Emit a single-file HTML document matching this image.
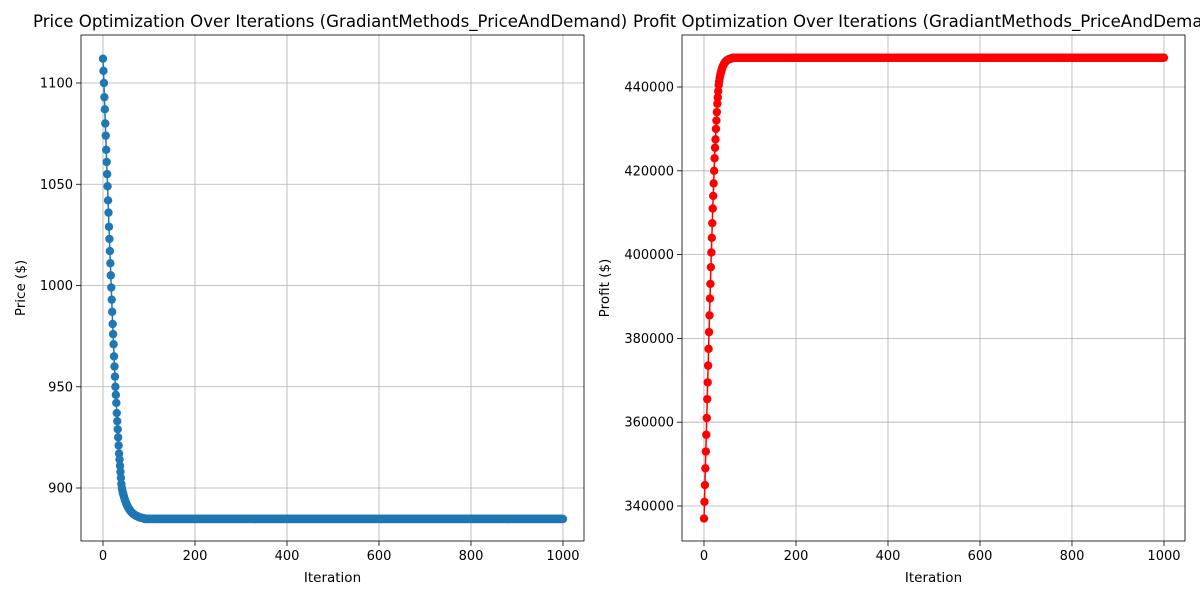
<!DOCTYPE html>
<html><head><meta charset="utf-8"><style>
html,body{margin:0;padding:0;background:#fff;width:1200px;height:600px;overflow:hidden}
svg{display:block;font-family:"DejaVu Sans","Liberation Sans",sans-serif}
</style></head><body>
<svg id="fig" width="1200" height="600" viewBox="0 0 1200 600"></svg>
<script>
// ---- data ----
const priceEarly = [1112,1106,1100,1093,1087,1080,1074,1067,1061,1055,1049,1042,1036,1029,1023,1017,1011,1005,999,993,987,981,976,971,965,960,955,950,946,942,937,933,929,925,921,917,914,911,908,905,902,900,
  898.9,897.9,897.0,896.2,895.4,894.6,893.9,893.3,892.7,892.1,891.6,891.1,890.7,890.3,889.9,889.5,889.2,888.9,888.6,888.3,888.0,887.8,887.6,887.4,887.2,887.0,886.9,886.7,886.6,886.4,886.3,886.2,886.1,886.0,885.9,885.8,885.6,885.55,885.5,885.4,885.35,885.3,885.25,885.2,885.15,885.1,885.05,885.0,884.95];
const priceConverged = 884.7;
const profitEarly = [337000,341000,345000,349000,353000,357000,361000,365500,369500,373500,377500,381500,385500,389500,393000,397000,400500,404000,407500,411000,414000,417000,420000,423000,425500,427500,430000,432000,434000,436000,437500,439000,440500,
  441300,442000,442600,443100,443600,444000,444350,444700,444950,445200,445420,445610,445780,445920,446050,446170,446270,446360,446430,446500,446560,446610,446660,446700,446740,446770,446800,446820,446840,446860];
const profitConverged = 447000;
const iterCount = 1000;
const xTicks = [0,200,400,600,800,1000];
const priceTicks = [900,950,1000,1050,1100];
const profitTicks = [340000,360000,380000,400000,420000,440000];

const NS="http://www.w3.org/2000/svg";
const svg=document.getElementById('fig');
function mk(tag,attrs,parent){const e=document.createElementNS(NS,tag);for(const k in attrs)e.setAttribute(k,attrs[k]);(parent||svg).appendChild(e);return e;}
function series(early,conv){const out=[];for(let i=0;i<=iterCount;i++)out.push(i<early.length?early[i]:conv);return out;}

function panel(cfg){
  const {x0,x1,y0,y1,xmin,xmax,ymin,ymax,vals,color,yt,title,ylab,name,tx,titleX}=cfg;
  const g=mk('g',{});
  
  
  const sx=v=>x0+(v-xmin)/(xmax-xmin)*(x1-x0);
  const sy=v=>y1-(v-ymin)/(ymax-ymin)*(y1-y0);
  xTicks.forEach(t=>{const l=mk('line',{x1:sx(t),x2:sx(t),y1:y0,y2:y1,stroke:'#b0b0b0','stroke-width':0.8},g);});
  yt.forEach(t=>{const l=mk('line',{x1:x0,x2:x1,y1:sy(t),y2:sy(t),stroke:'#b0b0b0','stroke-width':0.8},g);});
  const pts=vals.map((v,i)=>sx(i).toFixed(2)+','+sy(v).toFixed(2)).join(' ');
  const pl=mk('polyline',{points:pts,fill:'none',stroke:color,'stroke-width':1.5},g);
  
  
  const mg=mk('g',{fill:color},g);
  
  
  vals.forEach((v,i)=>{mk('circle',{cx:sx(i).toFixed(2),cy:sy(v).toFixed(2),r:4.2},mg);});
  const fr=mk('rect',{x:x0,y:y0,width:x1-x0,height:y1-y0,fill:'none',stroke:'#000','stroke-width':0.8},g);
  
  
  xTicks.forEach(t=>{mk('line',{x1:sx(t),x2:sx(t),y1:y1,y2:y1+5,stroke:'#000','stroke-width':0.8},g);
    const tx_=mk('text',{x:sx(t),y:y1+19,'text-anchor':'middle','font-size':13},g);tx_.textContent=t;
    });
  yt.forEach(t=>{mk('line',{x1:x0-5,x2:x0,y1:sy(t),y2:sy(t),stroke:'#000','stroke-width':0.8},g);
    const ty=mk('text',{x:x0-8,y:sy(t)+4.5,'text-anchor':'end','font-size':13},g);ty.textContent=t;
    });
  const xl=mk('text',{x:(x0+x1)/2,y:582,'text-anchor':'middle','font-size':13.5},g);xl.textContent='Iteration';
  
  const yl=mk('text',{x:0,y:0,'text-anchor':'middle','font-size':13.5,transform:`translate(${tx},${(y0+y1)/2}) rotate(-90)`},g);yl.textContent=ylab;
  
  const tt=mk('text',{x:titleX,y:27,'text-anchor':'start','font-size':16.6},g);tt.textContent=title;
  
}
panel({name:'price-chart',x0:81,x1:584,y0:35,y1:541,xmin:-47.8,xmax:1045.7,
  ymin:900-(541-488)/2.025,ymax:900+(488-35)/2.025,vals:series(priceEarly,priceConverged),
  color:'#1f77b4',yt:priceTicks,title:'Price Optimization Over Iterations (GradiantMethods_PriceAndDemand)',ylab:'Price ($)',tx:25,titleX:33});
panel({name:'profit-chart',x0:682,x1:1185,y0:35,y1:541,xmin:-47.8,xmax:1045.7,
  ymin:340000-(541-506)/83.8*20000,ymax:340000+(506-35)/83.8*20000,vals:series(profitEarly,profitConverged),
  color:'#ff0000',yt:profitTicks,title:'Profit Optimization Over Iterations (GradiantMethods_PriceAndDemand)',ylab:'Profit ($)',tx:609,titleX:633});
</script>
</body></html>
